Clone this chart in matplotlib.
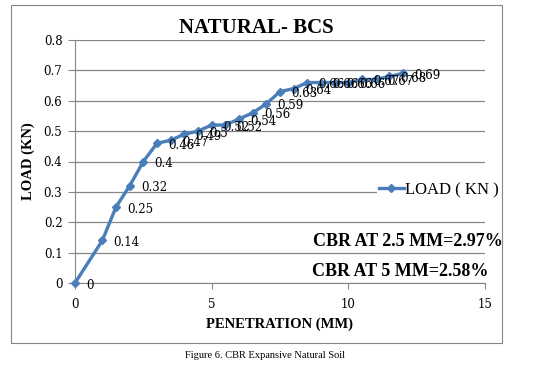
import matplotlib.pyplot as plt
from matplotlib.patches import Rectangle

penetration = [0, 1.0, 1.5, 2.0, 2.5, 3.0, 3.5, 4.0, 4.5, 5.0, 5.5, 6.0, 6.5,
               7.0, 7.5, 8.0, 8.5, 9.0, 9.5, 10.0, 10.5, 11.0, 11.5, 12.0]
load_kn = [0, 0.14, 0.25, 0.32, 0.40, 0.46, 0.47, 0.49, 0.50, 0.52, 0.52, 0.54, 0.56,
           0.59, 0.63, 0.64, 0.66, 0.66, 0.66, 0.66, 0.67, 0.67, 0.68, 0.69]
x_ticks = [0, 5, 10, 15]
y_ticks = [0, 0.1, 0.2, 0.3, 0.4, 0.5, 0.6, 0.7, 0.8]
cbr_notes = ["CBR AT 2.5 MM=2.97%", "CBR AT 5 MM=2.58%"]

BLUE = "#4a7ebb"
GREY = "#868686"
SERIF = "Liberation Serif"

W, H = 538, 368
fig = plt.figure(figsize=(W / 100, H / 100), dpi=100)
ax = fig.add_axes([75 / W, 1 - 283 / H, 410 / W, 243 / H])

# outer chart border
fig.patches.append(Rectangle((11 / W, 1 - 343 / H), 491 / W, 338 / H,
                             transform=fig.transFigure, fill=False,
                             edgecolor=GREY, lw=0.8))

ax.plot(penetration, load_kn, color=BLUE, lw=2.4, marker="D", ms=4.5,
        label="LOAD ( KN )", zorder=3, clip_on=False)
for x, y in zip(penetration, load_kn):
    ax.annotate(f"{y:g}", (x, y), xytext=(8, -1.5), textcoords="offset points",
                fontsize=8.5, family="DejaVu Serif", va="center", ha="left")

ax.set_xlim(0, 15)
ax.set_ylim(0, 0.8)
ax.set_xticks(x_ticks)
ax.set_yticks(y_ticks)
ax.set_yticklabels([f"{v:g}" for v in y_ticks])
ax.grid(axis="y", color=GREY, lw=0.9)
ax.set_axisbelow(True)
for s in ["top", "right"]:
    ax.spines[s].set_visible(False)
for s in ["left", "bottom"]:
    ax.spines[s].set_color(GREY)
ax.tick_params(axis="y", length=5, color=GREY, pad=4, labelsize=8.5)
ax.tick_params(axis="x", length=4.5, color=GREY, pad=6, labelsize=8.5)
for lab in ax.get_xticklabels() + ax.get_yticklabels():
    lab.set_family("DejaVu Serif")

ax.set_xlabel("PENETRATION (MM)", family=SERIF, fontweight="bold", fontsize=10.5, labelpad=5)
ax.set_ylabel("LOAD (KN)", family=SERIF, fontweight="bold", fontsize=10.5, labelpad=6)
fig.text(256 / W, 1 - 28 / H, "NATURAL- BCS", family=SERIF, fontweight="bold",
         fontsize=15, ha="center", va="center")

leg = ax.legend(loc="center left", bbox_to_anchor=(302 / 410, 0.383), frameon=True,
                prop={"family": SERIF, "size": 12}, handlelength=1.5,
                handletextpad=0.1, borderpad=0.1, borderaxespad=0)
leg.get_frame().set_edgecolor("none")
leg.get_frame().set_alpha(1)

fig.text(503 / W, 1 - 241 / H, cbr_notes[0], family=SERIF, fontweight="bold",
         fontsize=13, ha="right", va="center")
fig.text(489 / W, 1 - 272 / H, cbr_notes[1], family=SERIF, fontweight="bold",
         fontsize=13, ha="right", va="center")

fig.text(265 / W, 1 - 355 / H, "Figure 6. CBR Expansive Natural Soil", family=SERIF,
         fontsize=7.5, ha="center", va="center")

fig.savefig("out.png", dpi=100)
